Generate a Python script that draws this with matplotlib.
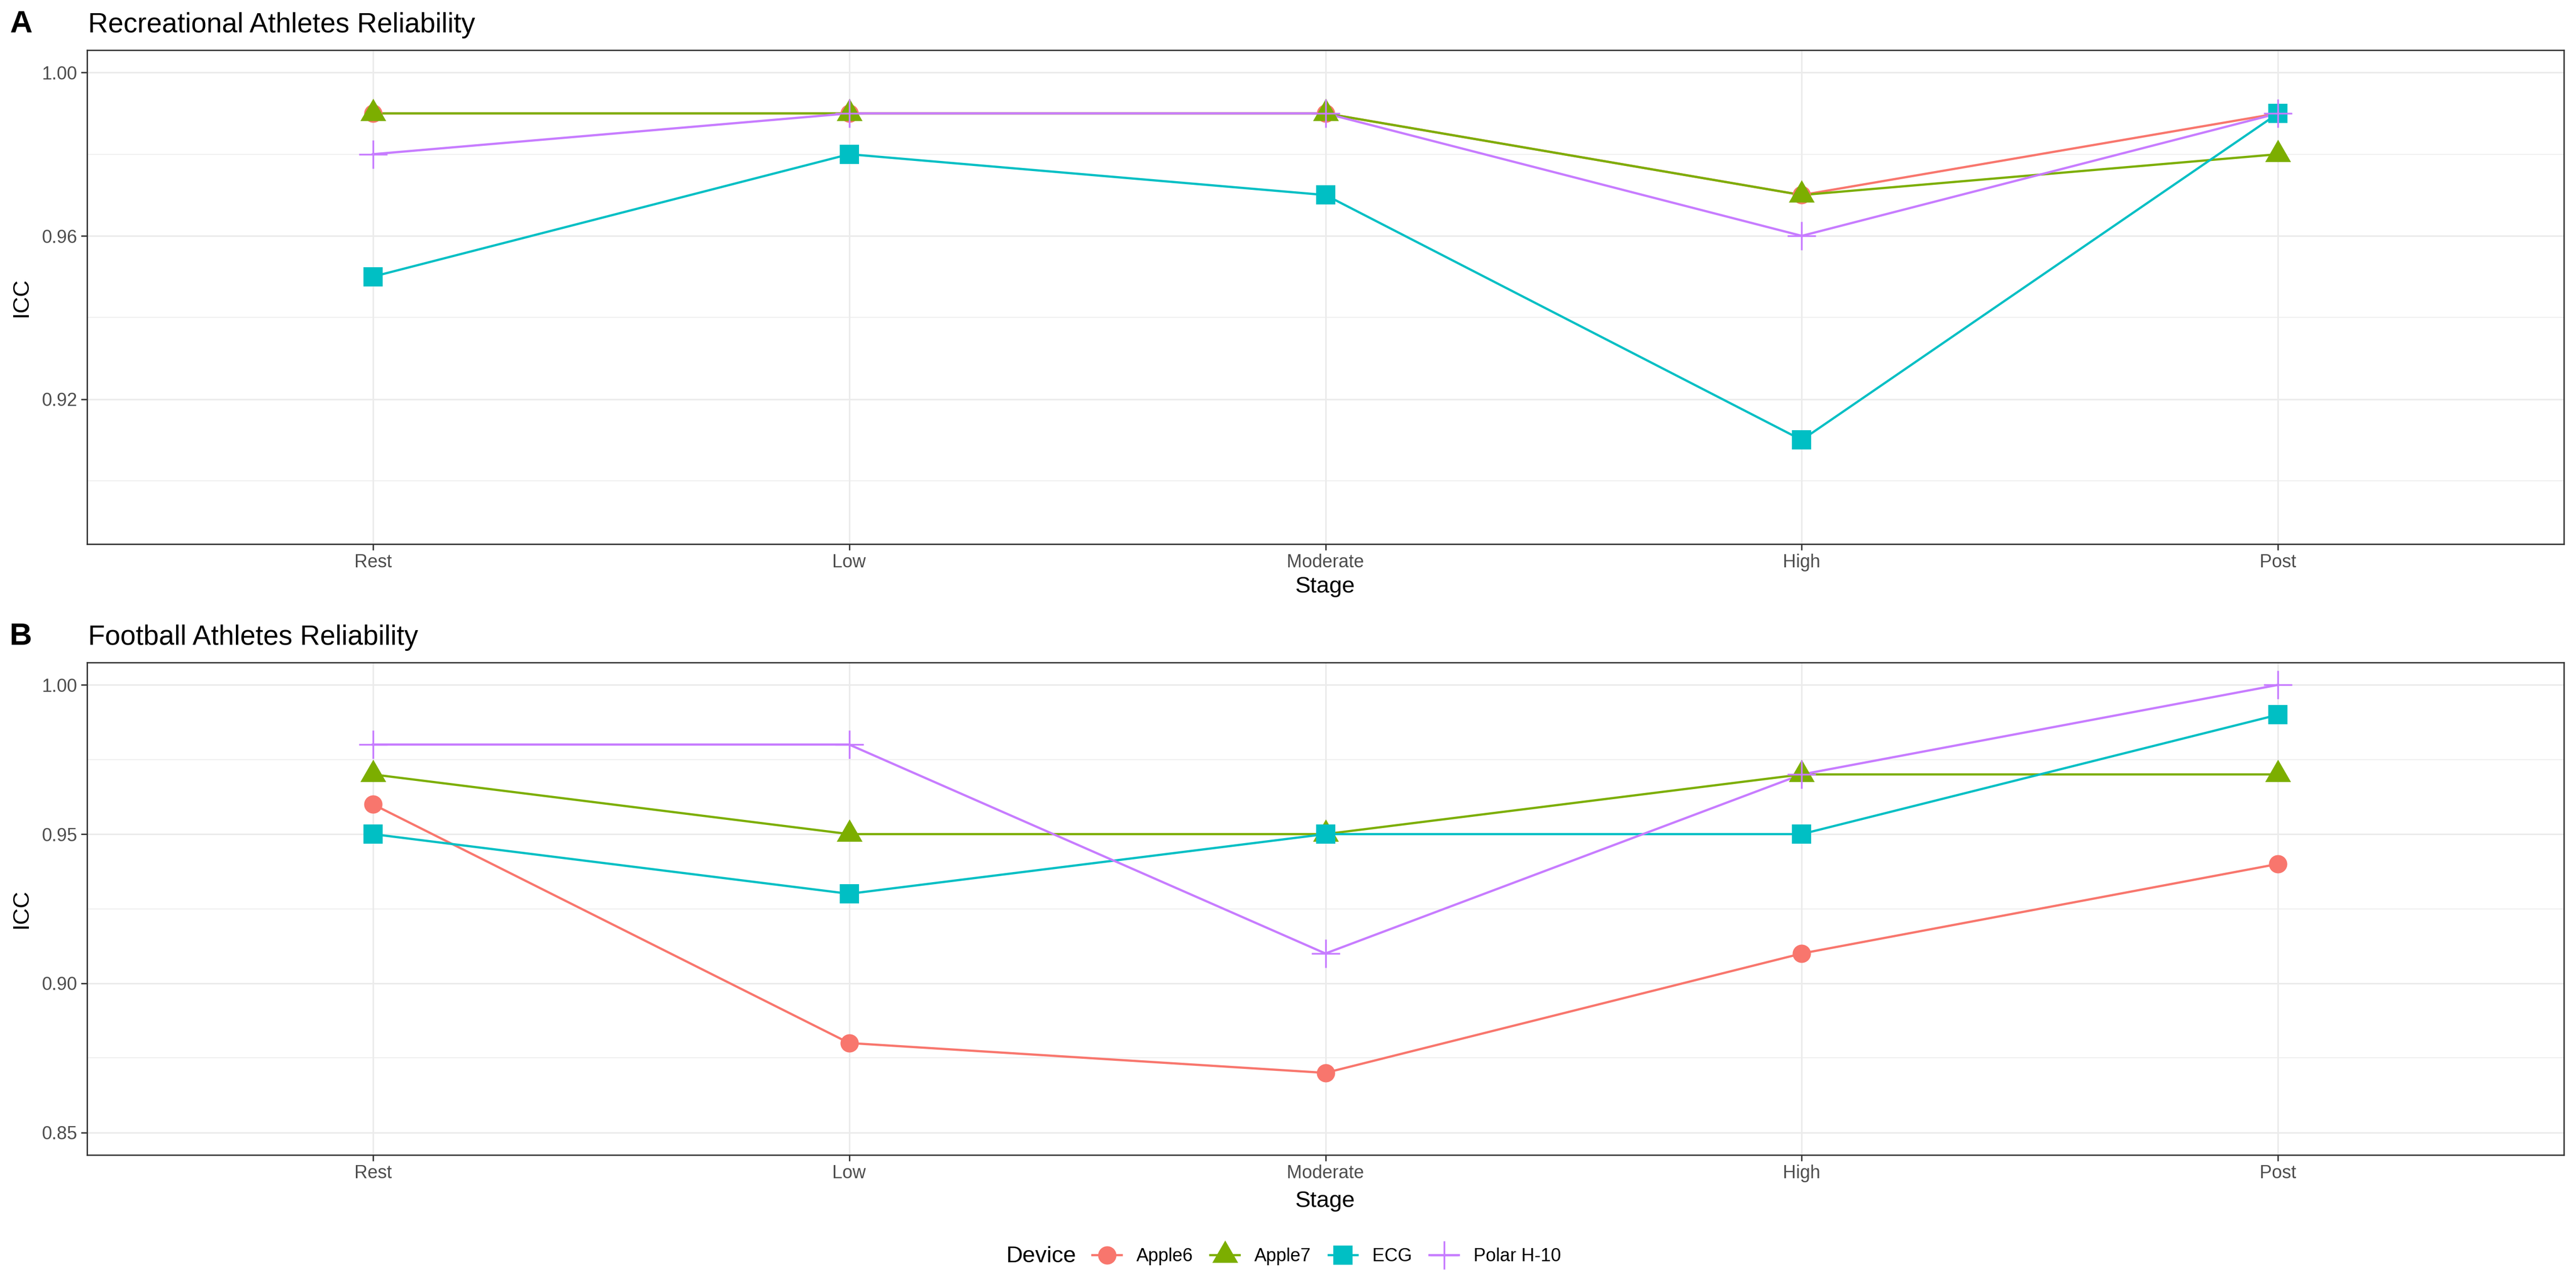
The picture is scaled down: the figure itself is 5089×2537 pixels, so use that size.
import numpy as np
import matplotlib.pyplot as plt
from matplotlib.lines import Line2D

plt.rcParams['font.family'] = ['Liberation Sans', 'DejaVu Sans']

stages = ['Rest', 'Low', 'Moderate', 'High', 'Post']
devices = ['Apple6', 'Apple7', 'ECG', 'Polar H-10']

# Recreational athletes (panel A)
rec_apple6 = [0.99, 0.99, 0.99, 0.97, 0.99]
rec_apple7 = [0.99, 0.99, 0.99, 0.97, 0.98]
rec_ecg = [0.95, 0.98, 0.97, 0.91, 0.99]
rec_polar = [0.98, 0.99, 0.99, 0.96, 0.99]

# Football athletes (panel B)
fb_apple6 = [0.96, 0.88, 0.87, 0.91, 0.94]
fb_apple7 = [0.97, 0.95, 0.95, 0.97, 0.97]
fb_ecg = [0.95, 0.93, 0.95, 0.95, 0.99]
fb_polar = [0.98, 0.98, 0.91, 0.97, 1.00]

colors = ['#F8766D', '#7CAE00', '#00BFC4', '#C77CFF']
tri = [(0, 1), (0.866, -0.5), (-0.866, -0.5), (0, 1)]
markers = ['o', tri, 's', '+']
msizes = [9.4, 15.3, 10.1, 14.3]

W, H = 5090, 2537
DPI = 277
fig = plt.figure(figsize=(W / DPI, H / DPI), dpi=DPI)


def px(x, y):
    return x / W, 1 - y / H


def draw_panel(rect, series, ylim, major, minor, tag, title, tag_y):
    ax = fig.add_axes(rect)
    x = np.arange(len(stages))
    for vals, c in zip(series, colors):
        ax.plot(x, vals, color=c, lw=1.15, zorder=2)
    for vals, c, m, ms in zip(series, colors, markers, msizes):
        if m == '+':
            ax.plot(x, vals, ls='none', marker='+', ms=ms, mew=0.9, color=c, zorder=3)
        else:
            ax.plot(x, vals, ls='none', marker=m, ms=ms, mew=0, color=c, zorder=3)
    ax.set_xlim(-0.6, 4.6)
    ax.set_ylim(*ylim)
    ax.set_xticks(x)
    ax.set_xticklabels(stages)
    ax.set_yticks(major)
    ax.set_yticklabels(['%.2f' % v for v in major])
    ax.set_yticks(minor, minor=True)
    ax.grid(True, which='major', color='#EBEBEB', lw=0.8, zorder=0)
    ax.grid(True, which='minor', axis='y', color='#EBEBEB', lw=0.4, zorder=0)
    ax.set_axisbelow(True)
    for s in ax.spines.values():
        s.set_color('#333333')
        s.set_linewidth(0.7)
    ax.tick_params(which='major', length=3, width=0.7, color='#333333',
                   labelcolor='#4D4D4D', labelsize=9.4, pad=2.0)
    ax.tick_params(which='minor', length=0)
    tx, ty = px(19, tag_y)
    fig.text(tx, ty, tag, fontsize=16, fontweight='bold', va='baseline')
    tx, ty = px(174, tag_y)
    fig.text(tx, ty, title, fontsize=14.2, va='baseline')
    return ax


ax1 = draw_panel([172 / W, 1 - 1075 / H, (5065 - 172) / W, (1075 - 99) / H],
                 [rec_apple6, rec_apple7, rec_ecg, rec_polar],
                 (0.8845, 1.0055), [0.92, 0.96, 1.00], [0.90, 0.94, 0.98],
                 'A', 'Recreational Athletes Reliability', 64)
ax2 = draw_panel([172 / W, 1 - 2282 / H, (5065 - 172) / W, (2282 - 1309) / H],
                 [fb_apple6, fb_apple7, fb_ecg, fb_polar],
                 (0.8425, 1.0075), [0.85, 0.90, 0.95, 1.00], [0.875, 0.925, 0.975],
                 'B', 'Football Athletes Reliability', 1274)

# axis titles
for yc in [(99 + 1075) / 2, (1309 + 2282) / 2]:
    fx, fy = px(42, yc)
    fig.text(fx, fy, 'ICC', fontsize=11.8, rotation=90, ha='center', va='center')
for yc in [1159, 2373]:
    fx, fy = px(2618, yc)
    fig.text(fx, fy, 'Stage', fontsize=11.8, ha='center', va='center')

# legend
handles = []
for c, m, ms in zip(colors, markers, msizes):
    if m == '+':
        handles.append(Line2D([], [], color=c, lw=1.15, marker='+', ms=ms, mew=0.9))
    else:
        handles.append(Line2D([], [], color=c, lw=1.15, marker=m, ms=ms, mew=0))
fx, fy = px(2126, 2483)
fig.text(fx, fy, 'Device', fontsize=11.8, ha='right', va='center')
fx, fy = px(2158, 2483)
fig.legend(handles, devices, loc='center left', bbox_to_anchor=(fx, fy), ncol=4,
           frameon=False, fontsize=9.4, handlelength=1.6, handletextpad=0.8,
           columnspacing=0.95, borderpad=0, borderaxespad=0)

fig.savefig('out.png', dpi=DPI)
